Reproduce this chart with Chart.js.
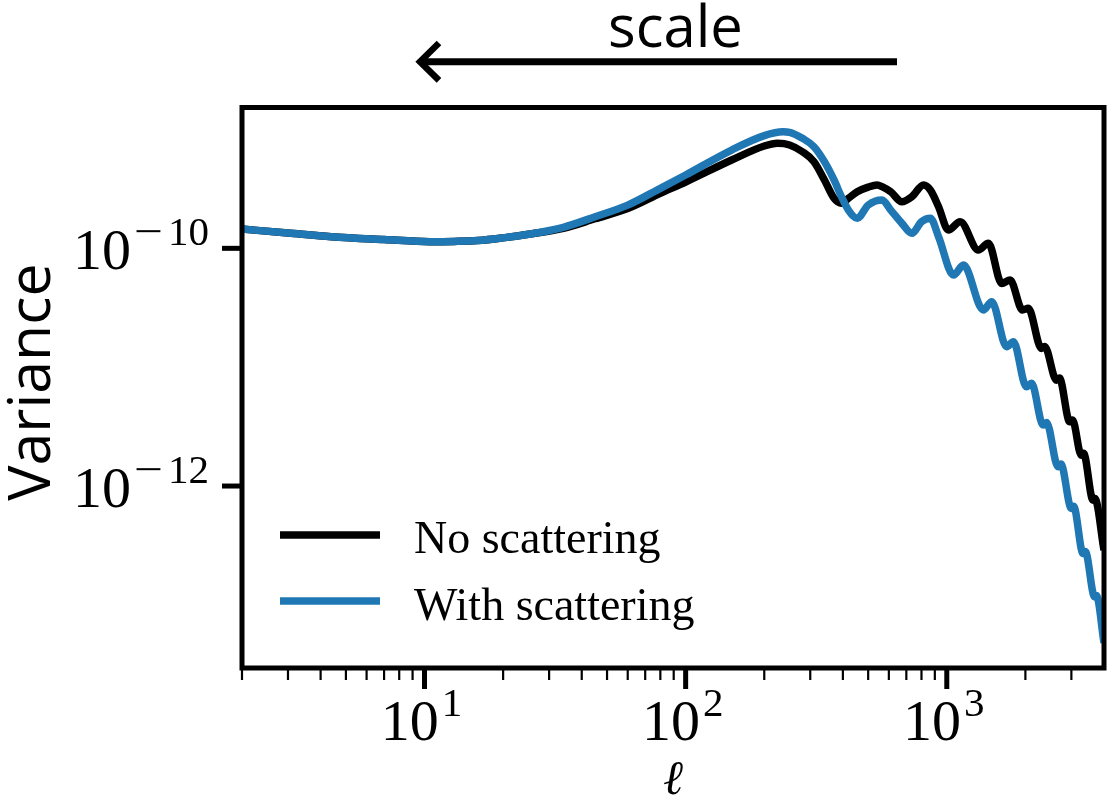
<!DOCTYPE html>
<html><head><meta charset="utf-8">
<script src="https://cdn.jsdelivr.net/npm/chart.js@4.4.0/dist/chart.umd.min.js"></script>
<style>html,body{margin:0;padding:0;background:#fff;} #wrap{width:1108px;height:801px;}</style>
</head><body><div id="wrap"><canvas id="c" width="1108" height="801"></canvas></div>
<script>
// ---- data (variance stored as log10 values) ----
const ellNoScat = [2, 3, 4.4, 7, 10.5, 13, 16, 20, 25, 34, 45, 60, 80, 100, 150, 200, 225, 250, 280, 310, 340, 370, 395, 420, 454, 500, 541, 565, 610, 673, 735, 815, 865, 930, 1014, 1125, 1321, 1443, 1623, 1747, 1950, 2051, 2305, 2370, 2630, 2700, 2957, 3030, 3273, 3340, 3631, 3690, 4000];
const logVarNoScat = [-9.838, -9.871, -9.902, -9.926, -9.944, -9.942, -9.935, -9.912, -9.882, -9.832, -9.751, -9.665, -9.537, -9.442, -9.257, -9.139, -9.116, -9.130, -9.187, -9.271, -9.425, -9.579, -9.621, -9.579, -9.524, -9.485, -9.467, -9.481, -9.524, -9.608, -9.566, -9.467, -9.509, -9.650, -9.846, -9.776, -10.014, -9.958, -10.295, -10.267, -10.519, -10.505, -10.842, -10.825, -11.109, -11.092, -11.460, -11.445, -11.740, -11.725, -12.119, -12.105, -12.540];
const ellScat = [2, 3, 4.4, 7, 10.5, 13, 16, 20, 25, 34, 45, 60, 80, 100, 150, 200, 236, 250, 280, 310, 340, 370, 395, 420, 454, 500, 565, 610, 673, 735, 800, 865, 930, 1061, 1158, 1380, 1486, 1695, 1799, 2018, 2111, 2339, 2410, 2668, 2735, 3000, 3060, 3325, 3390, 3684, 3740, 4000];
const logVarScat = [-9.838, -9.871, -9.902, -9.926, -9.944, -9.942, -9.935, -9.912, -9.882, -9.823, -9.734, -9.636, -9.495, -9.383, -9.173, -9.052, -9.020, -9.024, -9.074, -9.145, -9.271, -9.425, -9.566, -9.678, -9.747, -9.636, -9.593, -9.678, -9.790, -9.874, -9.776, -9.747, -9.902, -10.225, -10.141, -10.519, -10.449, -10.828, -10.786, -11.165, -11.136, -11.487, -11.465, -11.838, -11.815, -12.189, -12.170, -12.567, -12.550, -12.933, -12.920, -13.320];
const seriesLabels = ['No scattering', 'With scattering'];
const seriesColors = ['#000000', '#1f77b4'];
const xMajorTicks = [10, 100, 1000];
const xMajorExp = ['1', '2', '3'];
const xMinorTicks = [2, 3, 4, 5, 6, 7, 8, 9, 20, 30, 40, 50, 60, 70, 80, 90, 200, 300, 400, 500, 600, 700, 800, 900, 2000, 3000];
const yMajorTicks = [1e-10, 1e-12];
const yMajorExp = ['\u221210', '\u221212'];
const xLimits = [2, 4000];
const yLimits = [2.944e-14, 1.531e-9];
const xTitle = '\u2113';
const yTitle = 'Variance';
const arrowTitle = 'scale';

// ---- drawing helpers ----
const SERIF = "'Liberation Serif', 'DejaVu Serif', serif";
const MAIN_FONT = '58px ' + SERIF;
const SUP_FONT = '41px ' + SERIF;

function drawPow(ctx, base, exp, x, baseline, align) {
  ctx.font = MAIN_FONT;
  const wb = ctx.measureText(base).width;
  ctx.font = SUP_FONT;
  let parts = [];
  let we = 0;
  if (exp.startsWith('\u2212')) {
    const wm = ctx.measureText('\u2212').width;
    const wr = ctx.measureText(exp.slice(1)).width;
    parts = [['\u2212', 0], [exp.slice(1), wm + 5]];
    we = wm + 5 + wr;
  } else {
    parts = [[exp, 0]];
    we = ctx.measureText(exp).width;
  }
  const gap = 3;
  const total = wb + gap + we;
  let x0 = align === 'right' ? x - total : x - total / 2;
  ctx.textAlign = 'left';
  ctx.textBaseline = 'alphabetic';
  ctx.font = MAIN_FONT;
  ctx.fillText(base, x0, baseline);
  ctx.font = SUP_FONT;
  parts.forEach(p => {
    if (p[0] === '\u2212') {
      ctx.save();
      ctx.translate(x0 + wb + gap + p[1], baseline - 24);
      ctx.scale(1.25, 1);
      ctx.fillText(p[0], 0, 0);
      ctx.restore();
    } else {
      ctx.fillText(p[0], x0 + wb + gap + p[1] + (exp.startsWith('\u2212') ? 6 : 0), baseline - 24);
    }
  });
}

function seg(ctx, x1, y1, x2, y2) {
  ctx.beginPath(); ctx.moveTo(x1, y1); ctx.lineTo(x2, y2); ctx.stroke();
}

const decor = {
  id: 'decor',
  afterDatasetsDraw(chart) {
    const ctx = chart.ctx, a = chart.chartArea, xs = chart.scales.x, ys = chart.scales.y;
    ctx.save();
    ctx.fillStyle = '#000';
    ctx.strokeStyle = '#000';
    ctx.lineCap = 'butt';
    // frame
    ctx.lineWidth = 5;
    ctx.strokeRect(a.left, a.top, a.right - a.left, a.bottom - a.top);
    // x minor ticks
    ctx.lineWidth = 2.2;
    xMinorTicks.forEach(v => { const x = xs.getPixelForValue(v); seg(ctx, x, a.bottom, x, a.bottom + 12); });
    // x major ticks + labels
    ctx.lineWidth = 5;
    xMajorTicks.forEach((v, i) => {
      const x = xs.getPixelForValue(v);
      seg(ctx, x, a.bottom, x, a.bottom + 21);
      drawPow(ctx, '10', xMajorExp[i], x - 3, 740, 'center');
    });
    // y major ticks + labels
    yMajorTicks.forEach((v, i) => {
      const y = ys.getPixelForValue(v);
      seg(ctx, a.left - 20, y, a.left, y);
      drawPow(ctx, '10', yMajorExp[i], 203, y + 21, 'right');
    });
    // x title
    ctx.font = 'italic 48px ' + SERIF;
    ctx.textAlign = 'center';
    ctx.textBaseline = 'alphabetic';
    ctx.fillText(xTitle, (a.left + a.right) / 2, 794);
    // y title
    ctx.save();
    ctx.translate(50, 382);
    ctx.rotate(-Math.PI / 2);
    ctx.font = "59px 'Open Sans', 'Noto Sans', sans-serif";
    ctx.textAlign = 'center';
    ctx.textBaseline = 'alphabetic';
    ctx.fillText(yTitle, 0, 0);
    ctx.restore();
    // legend
    chart.data.datasets.forEach((ds, i) => {
      const ly = [535, 601][i];
      const by = [553, 620][i];
      ctx.strokeStyle = ds.borderColor;
      ctx.lineWidth = 7.5;
      seg(ctx, 280, ly, 380, ly);
      ctx.fillStyle = '#000';
      ctx.font = '46px ' + SERIF;
      ctx.textAlign = 'left';
      ctx.fillText(ds.label, 414, by);
    });
    // arrow + "scale"
    ctx.strokeStyle = '#000';
    ctx.lineWidth = 7;
    seg(ctx, 897, 61.7, 421, 61.7);
    ctx.lineWidth = 6.5;
    ctx.lineJoin = 'miter';
    ctx.beginPath(); ctx.moveTo(439, 43); ctx.lineTo(420, 61.7); ctx.lineTo(439, 80.4); ctx.stroke();
    ctx.font = "58px 'Open Sans', 'Noto Sans', sans-serif";
    ctx.textAlign = 'center';
    ctx.fillText(arrowTitle, 675.5, 47);
    ctx.restore();
  }
};

new Chart(document.getElementById('c'), {
  type: 'line',
  data: {
    datasets: [
      { label: seriesLabels[0], data: ellNoScat.map((l, i) => ({ x: l, y: Math.pow(10, logVarNoScat[i]) })),
        borderColor: seriesColors[0], borderWidth: 7.5, pointRadius: 0, cubicInterpolationMode: 'monotone',
        fill: false, order: 1, borderJoinStyle: 'round' },
      { label: seriesLabels[1], data: ellScat.map((l, i) => ({ x: l, y: Math.pow(10, logVarScat[i]) })),
        borderColor: seriesColors[1], borderWidth: 7.5, pointRadius: 0, cubicInterpolationMode: 'monotone',
        fill: false, order: 0, borderJoinStyle: 'round' }
    ]
  },
  options: {
    responsive: false, animation: false, devicePixelRatio: 1,
    layout: { padding: { left: 242, right: 4, top: 107.5, bottom: 133 } },
    plugins: { legend: { display: false }, tooltip: { enabled: false } },
    scales: {
      x: { type: 'logarithmic', min: xLimits[0], max: xLimits[1], display: false },
      y: { type: 'logarithmic', min: yLimits[0], max: yLimits[1], display: false }
    }
  },
  plugins: [decor]
});
</script></body></html>
